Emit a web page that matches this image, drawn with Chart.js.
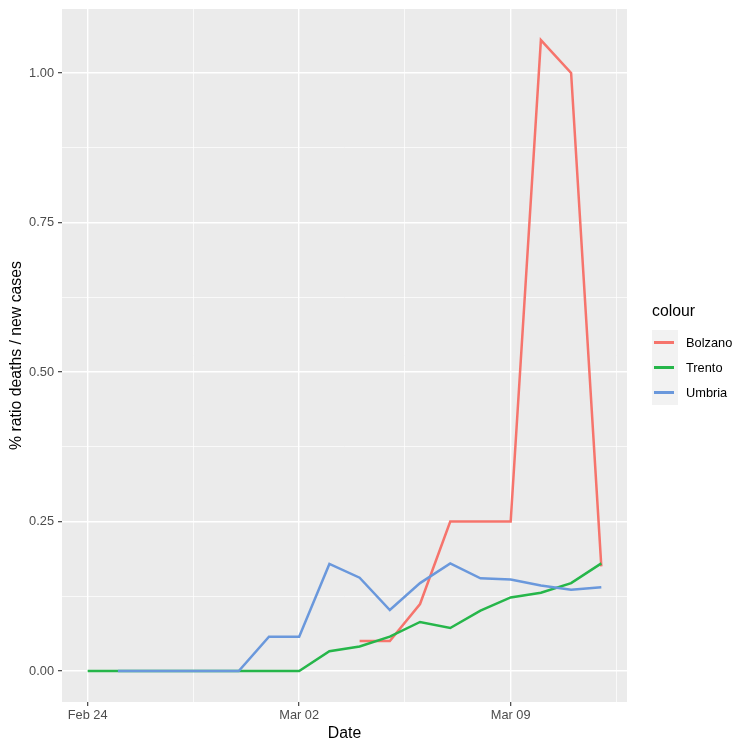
<!DOCTYPE html>
<html>
<head>
<meta charset="utf-8">
<script src="https://cdn.jsdelivr.net/npm/chart.js@4"></script>
<style>
  html, body { margin: 0; padding: 0; background: #fff; }
  #wrap { position: relative; width: 751px; height: 751px; }
  #chart { display: block; }
  #legend { position: absolute; left: 652px; top: 302px; font-family: "Liberation Sans", Arial, sans-serif; }
  #legend .title { font-size: 15.8px; color: #000; height: 28px; }
  #legend .key { display: flex; align-items: center; height: 25px; }
  #legend .swatch { width: 26px; height: 25px; background: #F2F2F2; position: relative; }
  #legend .swatch span { position: absolute; left: 2px; right: 4px; top: 11px; height: 2.5px; }
  #legend .lab { font-size: 12.8px; color: #000; margin-left: 8px; }
</style>
</head>
<body>
<div id="wrap">
  <canvas id="chart" width="751" height="751"></canvas>
  <div id="legend"></div>
</div>
<script>
// Data (ratio deaths / new cases, %)
const dates = ['Feb 24', 'Feb 25', 'Feb 26', 'Feb 27', 'Feb 28', 'Feb 29', 'Mar 01', 'Mar 02', 'Mar 03',
               'Mar 04', 'Mar 05', 'Mar 06', 'Mar 07', 'Mar 08', 'Mar 09', 'Mar 10', 'Mar 11', 'Mar 12'];
const bolzano = [null, null, null, null, null, null, null, null, null,
                 0.05, 0.05, 0.112, 0.25, 0.25, 0.25, 1.055, 1.0, 0.175];
const trento = [0, 0, 0, 0, 0, 0, 0, 0, 0.033,
                0.041, 0.0575, 0.082, 0.072, 0.101, 0.123, 0.131, 0.147, 0.180];
const umbria = [null, 0, 0, 0, 0, 0, 0.0575, 0.0575, 0.179,
                0.156, 0.102, 0.147, 0.180, 0.155, 0.153, 0.143, 0.136, 0.140];

const seriesNames = ['Bolzano', 'Trento', 'Umbria'];
const seriesColors = ['#F6746C', '#26B64A', '#6A98DC'];

// Tick labels
const xTickLabels = { 0: 'Feb 24', 7: 'Mar 02', 14: 'Mar 09' };
const xTicks = [0, 3.5, 7, 10.5, 14, 17.5];
const yTicks = [0, 0.125, 0.25, 0.375, 0.5, 0.625, 0.75, 0.875, 1.0];

const FONT = '"Liberation Sans", Arial, sans-serif';

const toPoints = arr => arr.map((v, i) => ({ x: i, y: v }));

// Grey panel background
const panelBg = {
    id: 'panelBg',
    beforeDraw(chart) {
        const { ctx, chartArea: a } = chart;
        ctx.save();
        ctx.fillStyle = '#EBEBEB';
        ctx.fillRect(a.left, a.top, a.right - a.left, a.bottom - a.top);
        ctx.restore();
    }
};

const isMajorX = v => v % 7 === 0;
const isMajorY = v => Math.abs(v / 0.25 - Math.round(v / 0.25)) < 1e-6;

const allSeries = [bolzano, trento, umbria];
const datasets = allSeries.map((s, i) => ({
    label: seriesNames[i],
    data: toPoints(s),
    borderColor: seriesColors[i],
    borderWidth: 2.5,
    pointRadius: 0,
    fill: false,
    tension: 0,
    spanGaps: false,
    order: 2 - i
}));

new Chart(document.getElementById('chart'), {
    type: 'line',
    data: { datasets: datasets },
    options: {
        responsive: false,
        animation: false,
        layout: { padding: { top: 9, right: 124, left: 0, bottom: 0 } },
        plugins: { legend: { display: false }, tooltip: { enabled: false } },
        scales: {
            x: {
                type: 'linear',
                min: -0.85,
                max: 17.85,
                afterBuildTicks: s => { s.ticks = xTicks.map(v => ({ value: v })); },
                afterFit: s => { s.height = 49; s.paddingLeft = 0; s.paddingRight = 0; },
                border: { display: false },
                grid: {
                    color: '#FFFFFF',
                    lineWidth: c => isMajorX(c.tick.value) ? 1.4 : 0.7,
                    tickColor: c => isMajorX(c.tick.value) ? '#333333' : 'rgba(0,0,0,0)',
                    tickWidth: 1.1,
                    tickLength: 4
                },
                ticks: {
                    autoSkip: false,
                    maxRotation: 0,
                    padding: 2,
                    color: '#4D4D4D',
                    font: { family: FONT, size: 12.8 },
                    callback: v => xTickLabels[v] || ''
                },
                title: {
                    display: true,
                    text: 'Date',
                    color: '#000',
                    font: { family: FONT, size: 15.8 },
                    padding: { top: 8, bottom: 8 }
                }
            },
            y: {
                type: 'linear',
                min: -0.0518,
                max: 1.107,
                afterBuildTicks: s => { s.ticks = yTicks.map(v => ({ value: v })); },
                afterFit: s => { s.width = 62; s.paddingTop = 0; s.paddingBottom = 0; },
                border: { display: false },
                grid: {
                    color: '#FFFFFF',
                    lineWidth: c => isMajorY(c.tick.value) ? 1.4 : 0.7,
                    tickColor: c => isMajorY(c.tick.value) ? '#333333' : 'rgba(0,0,0,0)',
                    tickWidth: 1.1,
                    tickLength: 4
                },
                ticks: {
                    autoSkip: false,
                    padding: 4,
                    color: '#4D4D4D',
                    font: { family: FONT, size: 12.8 },
                    callback: v => isMajorY(v) ? v.toFixed(2) : ''
                },
                title: {
                    display: true,
                    text: '% ratio deaths / new cases',
                    color: '#000',
                    font: { family: FONT, size: 15.8 },
                    padding: { top: 7, bottom: 7 }
                }
            }
        }
    },
    plugins: [panelBg]
});

// Legend (ggplot style)
const legendEl = document.getElementById('legend');
let html = '<div class="title">colour</div>';
seriesNames.forEach((name, i) => {
    html += `<div class="key"><div class="swatch"><span style="background:${seriesColors[i]}"></span></div><div class="lab">${name}</div></div>`;
});
legendEl.innerHTML = html;
</script>
</body>
</html>
